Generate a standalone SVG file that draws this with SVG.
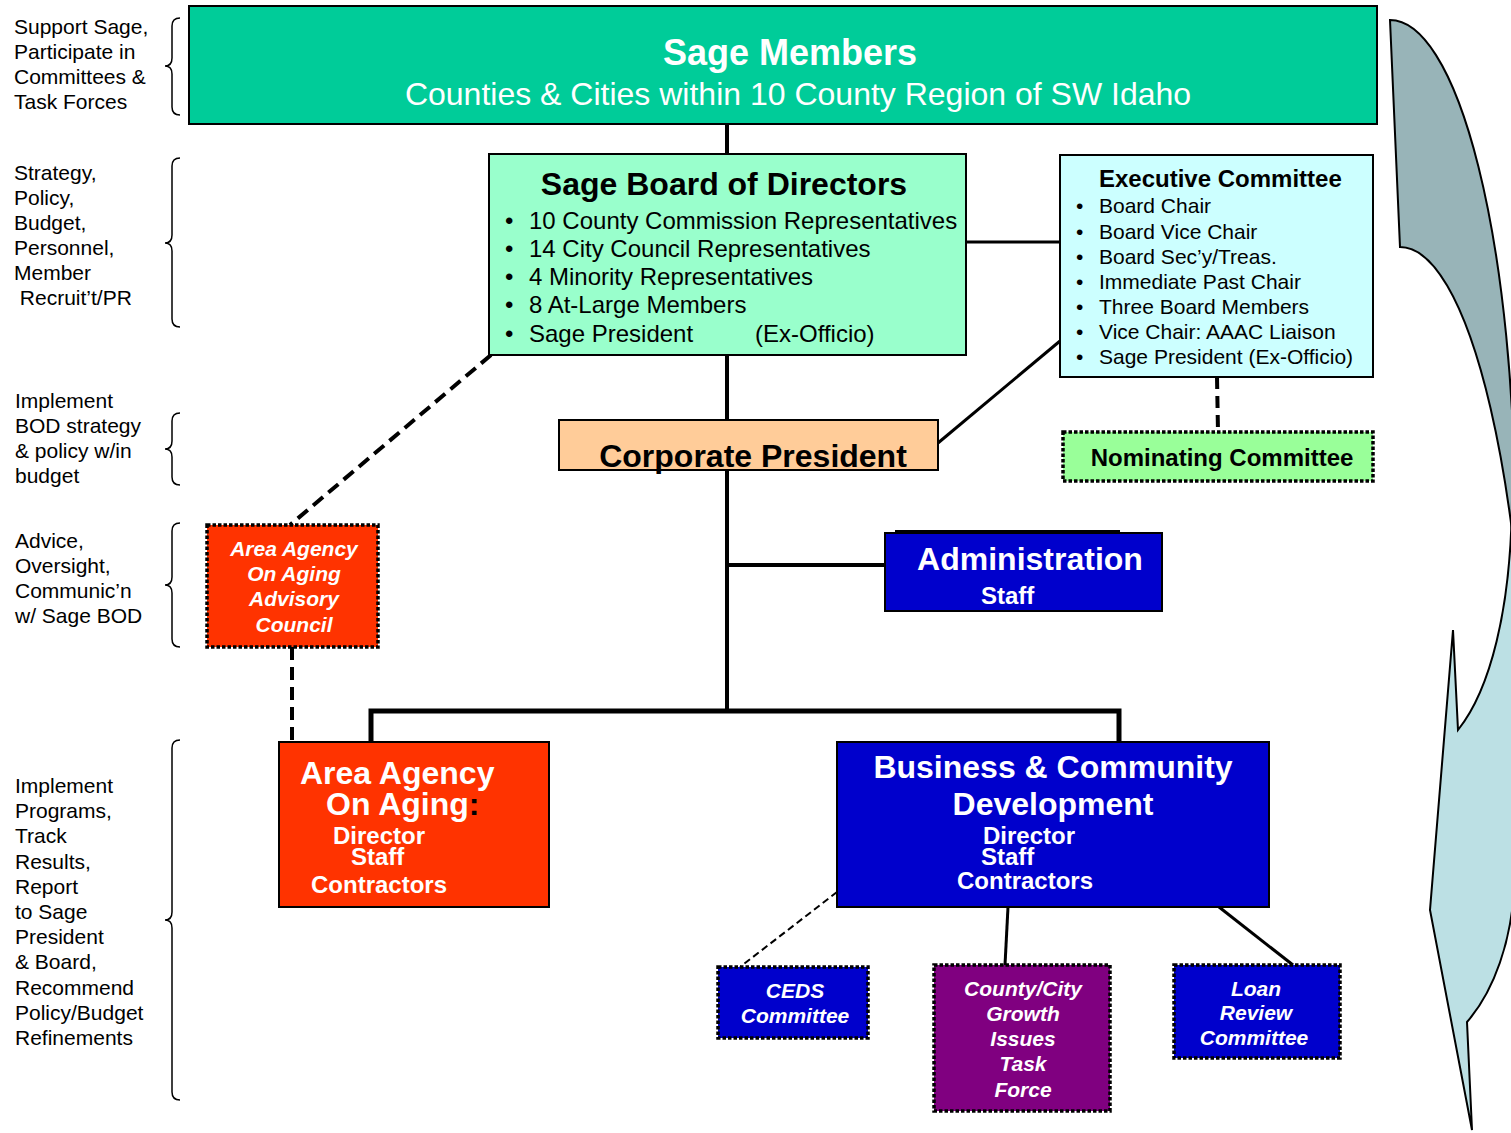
<svg xmlns="http://www.w3.org/2000/svg" width="1511" height="1133" viewBox="0 0 1511 1133">
<style>
text{font-family:"Liberation Sans",Arial,sans-serif;}
.lbl{font-size:21px;fill:#000;}
.brace{fill:none;stroke:#000;stroke-width:1.5;}
.box{stroke:#000;stroke-width:2;}
.dot{stroke:#000;stroke-width:3.5;stroke-dasharray:3.5 2;}
.w{fill:#fff;font-weight:bold;}
.wi{fill:#fff;font-weight:bold;font-style:italic;font-size:21px;}
.b{fill:#000;}
.conn{fill:none;stroke:#000;}
</style>
<rect width="1511" height="1133" fill="#fff"/>

<g id="arrow">
<path d="M1390,20 A125,500 0 0 1 1515,520 L1528,797 A128,550 0 0 0 1400,247 Z" fill="#98B4B8" stroke="#000" stroke-width="2"/>
<path d="M1512,500 C1511,610 1490,690 1458,730 L1453,630 L1430,910 L1472,1130 L1467,1022 C1495,990 1511,940 1514,890 L1530,890 L1530,500 Z" fill="#BCE0E4" stroke="#000" stroke-width="2"/>
</g>

<g id="labels">
<text class="lbl" x="14" y="34">Support Sage,</text>
<text class="lbl" x="14" y="59">Participate in</text>
<text class="lbl" x="14" y="84">Committees &amp;</text>
<text class="lbl" x="14" y="109">Task Forces</text>
<path class="brace" d="M180,18 Q172,18 172,26 L172,58 Q172,66 165,66 Q172,66 172,74 L172,107 Q172,115 180,115"/>

<text class="lbl" x="14" y="180">Strategy,</text>
<text class="lbl" x="14" y="205">Policy,</text>
<text class="lbl" x="14" y="230">Budget,</text>
<text class="lbl" x="14" y="255">Personnel,</text>
<text class="lbl" x="14" y="280">Member</text>
<text class="lbl" x="14" y="305" xml:space="preserve"> Recruit’t/PR</text>
<path class="brace" d="M180,158 Q172,158 172,166 L172,235 Q172,243 165,243 Q172,243 172,251 L172,319 Q172,327 180,327"/>

<text class="lbl" x="15" y="408">Implement</text>
<text class="lbl" x="15" y="433">BOD strategy</text>
<text class="lbl" x="15" y="458">&amp; policy w/in</text>
<text class="lbl" x="15" y="483">budget</text>
<path class="brace" d="M180,413 Q172,413 172,421 L172,441 Q172,449 165,449 Q172,449 172,457 L172,477 Q172,485 180,485"/>

<text class="lbl" x="15" y="548">Advice,</text>
<text class="lbl" x="15" y="573">Oversight,</text>
<text class="lbl" x="15" y="598">Communic’n</text>
<text class="lbl" x="15" y="623">w/ Sage BOD</text>
<path class="brace" d="M180,523 Q172,523 172,531 L172,577 Q172,585 165,585 Q172,585 172,593 L172,639 Q172,647 180,647"/>

<text class="lbl" x="15" y="793">Implement</text>
<text class="lbl" x="15" y="818">Programs,</text>
<text class="lbl" x="15" y="843">Track</text>
<text class="lbl" x="15" y="869">Results,</text>
<text class="lbl" x="15" y="894">Report</text>
<text class="lbl" x="15" y="919">to Sage</text>
<text class="lbl" x="15" y="944">President</text>
<text class="lbl" x="15" y="969">&amp; Board,</text>
<text class="lbl" x="15" y="995">Recommend</text>
<text class="lbl" x="15" y="1020">Policy/Budget</text>
<text class="lbl" x="15" y="1045">Refinements</text>
<path class="brace" d="M180,740 Q172,740 172,748 L172,912 Q172,920 165,920 Q172,920 172,928 L172,1092 Q172,1100 180,1100"/>
</g>

<g id="connectors">
<line class="conn" x1="727" y1="124" x2="727" y2="154" stroke-width="4"/>
<line class="conn" x1="966" y1="242" x2="1060" y2="242" stroke-width="3"/>
<line class="conn" x1="1060" y1="341" x2="938" y2="443" stroke-width="3"/>
<line class="conn" x1="727" y1="355" x2="727" y2="420" stroke-width="4"/>
<line class="conn" x1="727" y1="470" x2="727" y2="711" stroke-width="4"/>
<line class="conn" x1="727" y1="565" x2="895" y2="565" stroke-width="4"/>
<line class="conn" x1="1217" y1="377" x2="1218" y2="432" stroke-width="4" stroke-dasharray="12 7"/>
<line class="conn" x1="491" y1="355" x2="290" y2="525" stroke-width="4" stroke-dasharray="13 7"/>
<line class="conn" x1="292" y1="647" x2="292" y2="742" stroke-width="4" stroke-dasharray="13 7"/>
<path class="conn" d="M371,742 L371,711 L1119,711 L1119,742" stroke-width="5"/>
<line class="conn" x1="837" y1="892" x2="740" y2="967" stroke-width="2" stroke-dasharray="7 4"/>
<line class="conn" x1="1008" y1="907" x2="1005" y2="965" stroke-width="3"/>
<line class="conn" x1="1219" y1="907" x2="1293" y2="965" stroke-width="3"/>
</g>

<g id="sage-members">
<rect class="box" x="189" y="6" width="1188" height="118" fill="#00CC99"/>
<text class="w" x="790" y="65" font-size="36" text-anchor="middle">Sage Members</text>
<text x="798" y="105" font-size="32" fill="#fff" text-anchor="middle">Counties &amp; Cities within 10 County Region of SW Idaho</text>
</g>

<g id="board">
<rect class="box" x="489" y="154" width="477" height="201" fill="#99FFCC"/>
<text class="b" x="724" y="195" font-size="32" font-weight="bold" text-anchor="middle">Sage Board of Directors</text>
<g font-size="24" fill="#000">
<text x="505" y="229">•</text><text x="529" y="229">10 County Commission Representatives</text>
<text x="505" y="257">•</text><text x="529" y="257">14 City Council Representatives</text>
<text x="505" y="285">•</text><text x="529" y="285">4 Minority Representatives</text>
<text x="505" y="313">•</text><text x="529" y="313">8 At-Large Members</text>
<text x="505" y="342">•</text><text x="529" y="342">Sage President</text><text x="755" y="342">(Ex-Officio)</text>
</g>
</g>

<g id="executive-committee">
<rect class="box" x="1060" y="155" width="313" height="222" fill="#CCFFFF"/>
<text class="b" x="1099" y="187" font-size="24" font-weight="bold">Executive Committee</text>
<g font-size="21" fill="#000">
<text x="1076" y="213">•</text><text x="1099" y="213">Board Chair</text>
<text x="1076" y="239">•</text><text x="1099" y="239">Board Vice Chair</text>
<text x="1076" y="264">•</text><text x="1099" y="264">Board Sec’y/Treas.</text>
<text x="1076" y="289">•</text><text x="1099" y="289">Immediate Past Chair</text>
<text x="1076" y="314">•</text><text x="1099" y="314">Three Board Members</text>
<text x="1076" y="339">•</text><text x="1099" y="339">Vice Chair: AAAC Liaison</text>
<text x="1076" y="364">•</text><text x="1099" y="364">Sage President (Ex-Officio)</text>
</g>
</g>

<g id="corporate-president">
<rect class="box" x="559" y="420" width="379" height="50" fill="#FFCC99"/>
<text class="b" x="753" y="467" font-size="32" font-weight="bold" text-anchor="middle">Corporate President</text>
</g>

<g id="nominating-committee">
<rect class="dot" x="1063" y="432" width="310" height="49" fill="#99FF99"/>
<text class="b" x="1222" y="466" font-size="24" font-weight="bold" text-anchor="middle">Nominating Committee</text>
</g>

<g id="administration">
<line x1="895" y1="531" x2="1120" y2="531" stroke="#000" stroke-width="2"/>
<rect class="box" x="885" y="533" width="277" height="78" fill="#0000CC"/>
<text class="w" x="1030" y="570" font-size="32" text-anchor="middle">Administration</text>
<text class="w" x="981" y="604" font-size="24">Staff</text>
</g>

<g id="aaac">
<rect class="dot" x="207" y="525" width="171" height="122" fill="#FF3300"/>
<text class="wi" x="294" y="556" text-anchor="middle">Area Agency</text>
<text class="wi" x="294" y="581" text-anchor="middle">On Aging</text>
<text class="wi" x="294" y="606" text-anchor="middle">Advisory</text>
<text class="wi" x="294" y="632" text-anchor="middle">Council</text>
</g>

<g id="aaa">
<rect class="box" x="279" y="742" width="270" height="165" fill="#FF3300"/>
<text class="w" x="300" y="784" font-size="32">Area Agency</text>
<text class="w" x="326" y="815" font-size="32">On Aging<tspan fill="#000">:</tspan></text>
<text class="w" x="333" y="844" font-size="24">Director</text>
<text class="w" x="351" y="865" font-size="24">Staff</text>
<text class="w" x="311" y="893" font-size="24">Contractors</text>
</g>

<g id="bcd">
<rect class="box" x="837" y="742" width="432" height="165" fill="#0000CC"/>
<text class="w" x="1053" y="778" font-size="32" text-anchor="middle">Business &amp; Community</text>
<text class="w" x="1053" y="815" font-size="32" text-anchor="middle">Development</text>
<text class="w" x="983" y="844" font-size="24">Director</text>
<text class="w" x="981" y="865" font-size="24">Staff</text>
<text class="w" x="957" y="889" font-size="24">Contractors</text>
</g>

<g id="ceds">
<rect class="dot" x="718" y="967" width="150" height="71" fill="#0000CC"/>
<text class="wi" x="795" y="998" text-anchor="middle">CEDS</text>
<text class="wi" x="795" y="1023" text-anchor="middle">Committee</text>
</g>

<g id="growth-task-force">
<rect class="dot" x="934" y="965" width="176" height="146" fill="#800080"/>
<text class="wi" x="1023" y="996" text-anchor="middle">County/City</text>
<text class="wi" x="1023" y="1021" text-anchor="middle">Growth</text>
<text class="wi" x="1023" y="1046" text-anchor="middle">Issues</text>
<text class="wi" x="1023" y="1071" text-anchor="middle">Task</text>
<text class="wi" x="1023" y="1097" text-anchor="middle">Force</text>
</g>

<g id="loan-review">
<rect class="dot" x="1174" y="965" width="166" height="93" fill="#0000CC"/>
<text class="wi" x="1256" y="996" text-anchor="middle">Loan</text>
<text class="wi" x="1256" y="1020" text-anchor="middle">Review</text>
<text class="wi" x="1254" y="1045" text-anchor="middle">Committee</text>
</g>
</svg>
